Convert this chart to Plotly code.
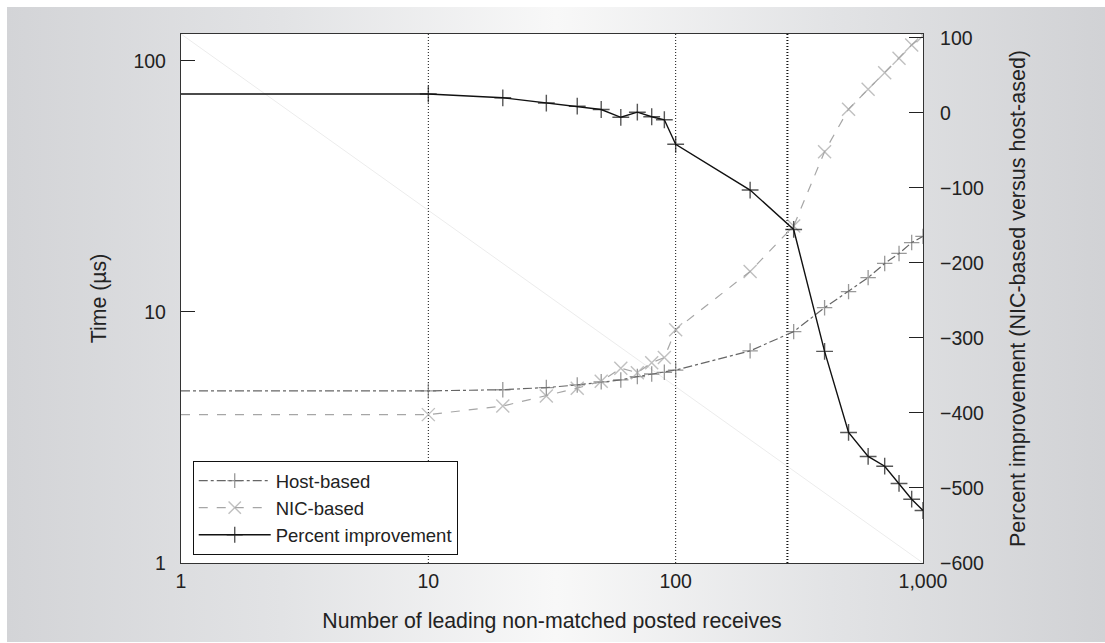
import base64
import plotly.graph_objects as go

# Number of leading non-matched posted receives
receives = [1, 10, 20, 30, 40, 50, 60, 70, 80, 90, 100, 200, 300, 400, 500, 600, 700, 800, 900, 1000]

# Time in microseconds
host_time = [4.85, 4.85, 4.9, 5.0, 5.12, 5.27, 5.36, 5.53, 5.66, 5.75, 5.87,
             7.0, 8.35, 10.4, 12.05, 13.7, 15.6, 17.1, 18.9, 20.0]
nic_time = [3.9, 3.9, 4.22, 4.63, 4.97, 5.3, 5.97, 5.73, 6.28, 6.58, 8.5,
            14.5, 22.0, 43.5, 64.2, 77.1, 89.8, 102.5, 115.8, 126.0]

# Percent improvement of NIC-based over host-based matching
pct_improvement = [25, 25, 20, 13, 8.8, 4.4, -6, 0.8, -5.3, -9.3, -42,
                   -103, -155.5, -318, -426, -458, -471, -494, -515, -530]

# Vertical reference markers on the x axis
reference_x = [10, 100, 283]
reference_width = [1, 1, 2]

x_ticks = [1, 10, 100, 1000]
x_ticktext = ["1", "10", "100", "1,000"]
time_ticks = [1, 10, 100]
pct_ticks = [-600, -500, -400, -300, -200, -100, 0, 100]
pct_ticktext = ["\u2212600", "\u2212500", "\u2212400", "\u2212300", "\u2212200", "\u2212100", "0", "100"]

x_range = [1, 1000]
time_range = [1, 128]
pct_range = [-600, 105]

W, H = 1105, 643
ML, MR, MT, MB = 181, 182, 34, 80
PW, PH = W - ML - MR, H - MT - MB

FONT = "Liberation Sans, Arial, Helvetica, sans-serif"
TEXT = "#222222"

fig = go.Figure()

# faint diagonal across the plot area
fig.add_trace(go.Scatter(
    x=[x_range[0], x_range[1]], y=[time_range[1], time_range[0]],
    mode="lines", line=dict(color="#ececec", width=1),
    showlegend=False, hoverinfo="skip"))

for xv, wv in zip(reference_x, reference_width):
    fig.add_trace(go.Scatter(
        x=[xv, xv], y=time_range, mode="lines",
        line=dict(color="#111111", width=wv, dash="1px,2px"),
        showlegend=False, hoverinfo="skip"))

n = len(receives)

fig.add_trace(go.Scatter(
    x=receives, y=host_time, name="Host-based", mode="lines+markers",
    line=dict(color="#666666", width=1.2, dash="dashdot"),
    marker=dict(symbol="cross-thin", size=[0] + [11] * (n - 1),
                line=dict(color="#6e6e6e", width=1.3))))

fig.add_trace(go.Scatter(
    x=receives, y=nic_time, name="NIC-based", mode="lines+markers",
    line=dict(color="#a6a6a6", width=1.2, dash="dash"),
    marker=dict(symbol="x-thin", size=[0] + [13] * (n - 1),
                line=dict(color="#a6a6a6", width=1.4))))

fig.add_trace(go.Scatter(
    x=receives, y=pct_improvement, name="Percent improvement", mode="lines+markers",
    yaxis="y2",
    line=dict(color="#111111", width=1.4),
    marker=dict(symbol="cross-thin", size=[0] + [12] * (n - 1),
                line=dict(color="#111111", width=1.4))))

# gradient panel behind the chart, white plotting area on top of it
svg = f"""<svg xmlns='http://www.w3.org/2000/svg' width='{W}' height='{H}' viewBox='0 0 {W} {H}' preserveAspectRatio='none'>
<defs><linearGradient id='g' x1='0' y1='0' x2='1' y2='0'>
<stop offset='0' stop-color='#d3d4d7'/>
<stop offset='0.25' stop-color='#e2e3e5'/>
<stop offset='0.5' stop-color='#f8f8f8'/>
<stop offset='0.75' stop-color='#e2e3e5'/>
<stop offset='1' stop-color='#d1d2d5'/>
</linearGradient></defs>
<rect x='0' y='0' width='{W}' height='{H}' fill='#ffffff'/>
<rect x='7' y='7' width='{W - 7}' height='{H - 8}' fill='url(#g)'/>
<rect x='{ML}' y='{MT}' width='{PW}' height='{PH}' fill='#ffffff'/>
</svg>"""
bg_src = "data:image/svg+xml;base64," + base64.b64encode(svg.encode()).decode()

fig.update_layout(
    width=W, height=H,
    margin=dict(l=ML, r=MR, t=MT, b=MB, autoexpand=False),
    paper_bgcolor="#ffffff", plot_bgcolor="#ffffff",
    font=dict(family=FONT, size=19.5, color=TEXT),
    images=[dict(source=bg_src, xref="paper", yref="paper",
                 x=-ML / PW, y=1 + MT / PH, sizex=W / PW, sizey=H / PH,
                 xanchor="left", yanchor="top", sizing="stretch", layer="below")],
    xaxis=dict(type="log", range=[0, 3], tickvals=x_ticks, ticktext=x_ticktext,
               ticks="", showgrid=False, zeroline=False,
               showline=True, linecolor="#333333", linewidth=1.3, mirror=True,
               title=dict(text="Number of leading non-matched posted receives",
                          font=dict(size=21.3), standoff=22)),
    yaxis=dict(type="log", range=[0, 2.10721], tickvals=time_ticks,
               ticks="inside", ticklen=14, tickcolor="#222222",
               ticklabelstandoff=10, showgrid=False, zeroline=False,
               showline=True, linecolor="#333333", linewidth=1.3,
               title=dict(text="Time (\u00b5s)", font=dict(size=21.3), standoff=20)),
    yaxis2=dict(overlaying="y", side="right", range=pct_range,
                tickvals=pct_ticks, ticktext=pct_ticktext,
                ticks="inside", ticklen=14, tickcolor="#222222",
                ticklabelstandoff=12, showgrid=False, zeroline=False,
                showline=True, linecolor="#333333", linewidth=1.3,
                title=dict(text="Percent improvement (NIC-based versus host-ased)",
                           font=dict(size=21.5), standoff=26)),
    legend=dict(x=0.0158, y=0.015, xanchor="left", yanchor="bottom",
                bgcolor="#ffffff", bordercolor="#111111", borderwidth=1,
                font=dict(size=18.5), itemwidth=72, tracegroupgap=0),
    showlegend=True,
)

fig.write_html("out.html")
